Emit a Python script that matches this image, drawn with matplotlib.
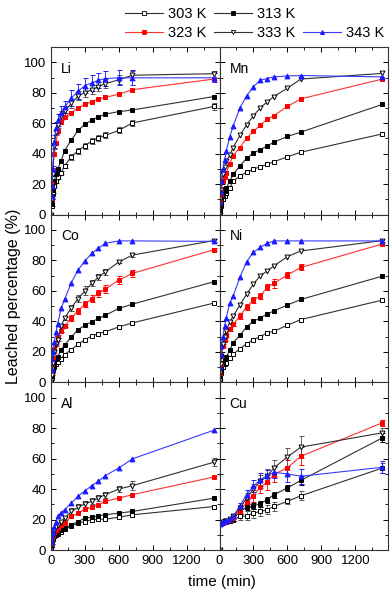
import matplotlib.pyplot as plt
from matplotlib.lines import Line2D
from matplotlib.ticker import MultipleLocator

plt.rcParams['font.family'] = ['Liberation Sans', 'DejaVu Sans']

# sampling times (min)
t = [0, 5, 10, 15, 30, 45, 60, 90, 120, 180, 240, 300, 360, 420, 480, 600, 720, 1440]
temps = ["303 K", "313 K", "323 K", "333 K", "343 K"]

li_303 = [0, 6, 10, 14, 19, 22, 24.7, 27.6, 32, 38, 42, 45.3, 48.2, 50.4, 52, 55.3, 60.2, 71]
li_313 = [0, 7, 12, 16, 22, 27, 30, 35.3, 42, 49, 55.3, 59.3, 62, 64.2, 66, 67.6, 68.7, 77.5]
li_323 = [0, 10, 20, 29, 40, 47, 55, 61, 64, 67, 70, 72.5, 74, 76, 77, 79, 82, 89]
li_333 = [0, 10, 18, 27, 45, 54, 59, 65, 68, 73, 78, 80, 82, 84, 86, 88.5, 91.5, 92.5]
li_343 = [0, 12, 19, 30, 48, 57, 62, 67, 70.5, 76.5, 81, 84.7, 86.4, 88.2, 89.3, 89.8, 89.8, 89.8]

mn_303 = [0, 3, 6, 8, 10, 12, 14, 17.5, 22, 25.3, 28, 29.8, 31.6, 33, 34.7, 38, 41, 53]
mn_313 = [0, 4, 7, 10, 13, 15.5, 17.5, 22, 26.4, 32, 37, 40.4, 42.7, 45, 47.6, 51.3, 54.2, 72.4]
mn_323 = [0, 8, 13, 17, 22, 25, 27.5, 33.5, 38.7, 44, 50.4, 54.7, 58.7, 62.5, 65, 71, 76, 89]
mn_333 = [0, 10, 16, 21, 27, 31, 35, 39, 44, 52, 59, 65, 70, 74, 77.5, 83, 89, 92.7]
mn_343 = [0, 8, 15, 22, 30, 36, 42, 51, 58, 70, 78, 84, 88.2, 89.3, 90.4, 91, 91.3, 90.4]

co_303 = [0, 3, 6, 8, 10, 12, 13.4, 15.6, 18.2, 21.5, 25, 28, 30.3, 32, 33.1, 36.4, 39, 52]
co_313 = [0, 4, 7, 10, 13, 15, 16.7, 21.5, 24.3, 29.8, 34.6, 37.5, 39.7, 41.9, 44, 48.5, 51.3, 66]
co_323 = [0, 6, 11, 16, 22, 26, 30, 34, 37, 42, 47, 51.3, 55, 58.3, 61.2, 67, 71.5, 87]
co_333 = [0, 5, 9, 13, 20, 25, 28, 37, 42, 49, 55, 60, 65, 69, 72.5, 79, 83.5, 93]
co_343 = [0, 8, 15, 20, 26.5, 33, 38.6, 48.5, 54.4, 65.4, 73.7, 79.6, 84.6, 88, 91.2, 92.8, 92.8, 92.5]

ni_303 = [0, 3, 6, 8, 10, 12, 13, 16, 18.5, 22, 25.4, 28, 30, 32.5, 33.5, 37.5, 41.2, 54]
ni_313 = [0, 4, 7, 10, 13, 15, 16.7, 21, 25.9, 30.9, 36.4, 40.1, 42.3, 44.7, 46.9, 50.7, 54.4, 69.7]
ni_323 = [0, 6, 12, 17, 24, 28, 31, 35, 38.2, 43.4, 49.6, 54, 56.6, 62.3, 65, 70.4, 75.4, 90.8]
ni_333 = [0, 6, 12, 17, 25, 30, 34, 39.7, 43.4, 50.7, 57.9, 64.5, 70, 73, 76.3, 82.5, 86.2, 93]
ni_343 = [0, 10, 18, 24, 30, 37, 42.5, 51.8, 56.6, 68.9, 79.2, 85.3, 88.6, 91.2, 92.8, 92.8, 92.8, 92.8]

al_303 = [0, 3.5, 6, 7.5, 9, 10, 10.5, 12.1, 13.6, 15.8, 17.6, 18.7, 19.8, 20.2, 20.2, 21.5, 23.1, 28.5]
al_313 = [0, 4, 6, 8, 9.5, 10.5, 11, 13.2, 14.3, 16.5, 18.7, 20.9, 21.5, 22.4, 23.1, 24.2, 25.3, 34]
al_323 = [0, 4, 7, 9, 11.5, 13, 14.3, 16.5, 18, 22, 24.2, 26.8, 27.9, 29.7, 31.9, 34.1, 36.3, 47.9]
al_333 = [0, 4, 7, 10, 13, 15, 16.5, 18.7, 20.9, 25.3, 27.9, 30.3, 31.9, 34.1, 36.3, 40, 42.2, 57.6]
al_343 = [0, 5, 9, 12, 15.4, 18.7, 22, 24.6, 26.4, 30.8, 35.2, 38.9, 42.2, 45.1, 48.8, 53.8, 59.8, 78.6]

cu_303 = [0, 17, 17.5, 18, 18, 18.5, 18.5, 19, 19.8, 22, 22.4, 24.2, 25.3, 26.4, 28.6, 31.9, 35.6, 53.8]
cu_313 = [0, 17, 17.5, 18, 18, 18.5, 19, 19.3, 20.2, 25.3, 28.1, 29, 30.3, 33, 36.3, 40.7, 45.7, 73.6]
cu_323 = [0, 17, 17.5, 18, 18, 18.5, 19, 20, 21.3, 25.9, 31.2, 35.6, 41.3, 44.4, 49.5, 54, 61.5, 83.5]
cu_333 = [0, 17, 17.5, 18, 18.7, 19, 19.3, 20.2, 22, 27.5, 34.1, 40, 45, 48.4, 53.8, 61.1, 67.5, 76.9]
cu_343 = [0, 17, 17.5, 18, 18.7, 19, 19.3, 20.2, 22, 29, 36.3, 41.8, 46.2, 48.8, 51, 49.9, 48.4, 54.3]

# error bars (only where visible in the figure)
err_li_303 = [0, 0, 0, 0, 1, 1, 1, 1, 1.5, 2, 2, 2, 2, 2, 2, 2, 2, 2]
err_li_333 = [0, 0, 0, 1, 2, 2, 2, 3, 3, 3, 3, 3, 3, 3, 3, 3, 3, 2]
err_li_343 = [0, 0, 0, 2, 4, 4, 4, 4, 4, 5, 5, 5, 5, 5, 5, 5, 5, 3]
err_co_323 = [0, 0, 0, 0, 1, 1, 1, 1, 1, 2, 2, 2, 2, 2, 2.5, 2.5, 2.5, 1]
err_co_333 = [0, 0, 0, 0, 1, 1, 1, 1, 1, 2, 2, 3, 2, 2, 2, 1, 1, 1]
err_ni_323 = [0, 0, 0, 0, 1, 1, 1, 1, 1, 2, 2, 2, 2, 2, 3, 2, 2, 1]
err_al_333 = [0, 0, 0, 0, 1, 1, 1, 1, 1, 2, 2, 2, 2, 2, 2, 2, 3, 2.5]
err_cu_303 = [0, 0, 0, 0, 0, 0, 0, 0, 1, 2, 3, 3, 3, 3, 3, 2, 3, 3]
err_cu_313 = [0, 0, 0, 0, 0, 0, 0, 0, 1, 2, 2, 2, 2, 2, 2, 2, 3, 3]
err_cu_323 = [0, 0, 0, 0, 0, 0, 0, 0, 1, 2, 3, 4, 4, 5, 5, 5, 6, 2]
err_cu_333 = [0, 0, 0, 0, 0, 0, 0, 0, 1, 2, 3, 3, 4, 5, 5, 6, 7, 3]
err_cu_343 = [0, 0, 0, 0, 0, 0, 0, 0, 1, 2, 3, 4, 4, 4, 4, 5, 5, 4]

panels = [
    ("Li", [li_303, li_313, li_323, li_333, li_343], [err_li_303, None, None, err_li_333, err_li_343]),
    ("Mn", [mn_303, mn_313, mn_323, mn_333, mn_343], [None, None, None, None, None]),
    ("Co", [co_303, co_313, co_323, co_333, co_343], [None, None, err_co_323, err_co_333, None]),
    ("Ni", [ni_303, ni_313, ni_323, ni_333, ni_343], [None, None, err_ni_323, None, None]),
    ("Al", [al_303, al_313, al_323, al_333, al_343], [None, None, None, err_al_333, None]),
    ("Cu", [cu_303, cu_313, cu_323, cu_333, cu_343], [err_cu_303, err_cu_313, err_cu_323, err_cu_333, err_cu_343]),
]

line_colors = ['#303030', '#303030', '#ff3030', '#303030', '#3a3aff']
mk_colors = ['black', 'black', '#ff0000', 'black', '#1a1aff']
markers = ['s', 's', 's', 'v', '^']
fills = ['white', 'black', '#ff0000', 'white', '#1a1aff']

fig, axes = plt.subplots(3, 2, figsize=(3.92, 5.93), dpi=100, sharex=True, sharey=True)
fig.subplots_adjust(left=0.130, right=0.990, top=0.9207, bottom=0.0725, hspace=0, wspace=0)

for ax, (name, series, errs) in zip(axes.flat, panels):
    for i in range(5):
        ax.errorbar(t, series[i], yerr=errs[i], color=line_colors[i], lw=0.8,
                    marker=markers[i], ms=3.5, mfc=fills[i], mec=mk_colors[i], mew=0.7,
                    ecolor=mk_colors[i] if i not in (0, 3) else '#555555', elinewidth=0.6,
                    capsize=1.8, capthick=0.6, label=temps[i])
    ax.text(0.06, 0.87, name, transform=ax.transAxes, fontsize=10, va='center')
    ax.set_xlim(0, 1490)
    ax.set_ylim(0, 110)
    ax.xaxis.set_major_locator(MultipleLocator(300))
    ax.xaxis.set_minor_locator(MultipleLocator(150))
    ax.yaxis.set_major_locator(MultipleLocator(20))
    ax.yaxis.set_minor_locator(MultipleLocator(10))
    ax.tick_params(which='both', direction='in', top=True, right=True, labelsize=9.5)
    ax.tick_params(which='major', length=3.5, width=0.7)
    ax.tick_params(which='minor', length=2, width=0.6)
    for s in ax.spines.values():
        s.set_linewidth(0.8)
        s.set_color('#333333')

fig.text(0.035, 0.5, "Leached percentage (%)", rotation=90, va='center', ha='center', fontsize=11.5)
fig.text(222 / 392, 1 - 582 / 593, "time (min)", ha='center', va='center', fontsize=11)

# legend: two rows, 303/313 on top and 323/333/343 below
h = [Line2D([], [], color=line_colors[i], lw=0.8, marker=markers[i], ms=3,
            mfc=fills[i], mec=mk_colors[i], mew=0.6) for i in range(5)]
blank = Line2D([], [], alpha=0)
fig.legend([h[0], h[2], h[1], h[3], blank, h[4]],
           [temps[0], temps[2], temps[1], temps[3], '', temps[4]],
           ncol=3, loc='upper left', bbox_to_anchor=(0.292, 1.005), frameon=False,
           fontsize=10.5, handlelength=2.6, handletextpad=0.35, columnspacing=0.55,
           labelspacing=0.35, borderpad=0.2)

plt.savefig('out.png', dpi=100)
